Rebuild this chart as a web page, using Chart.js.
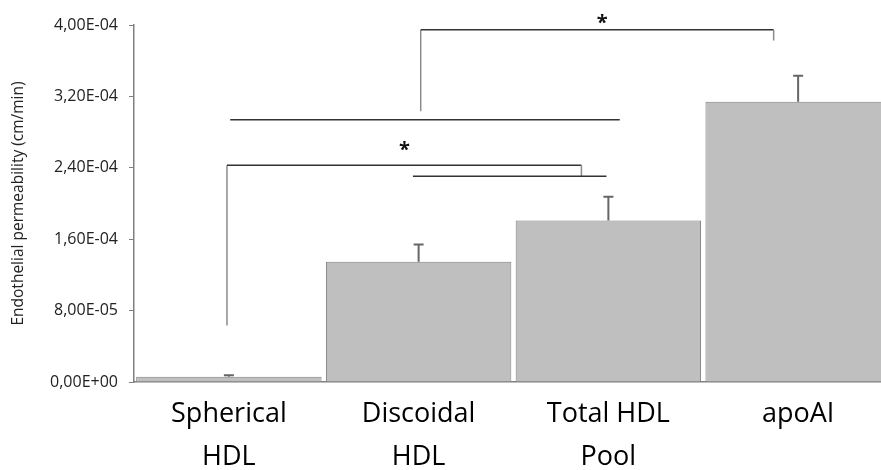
<!DOCTYPE html>
<html>
<head>
<meta charset="utf-8">
<script src="https://cdn.jsdelivr.net/npm/chart.js@4/dist/chart.umd.min.js"></script>
<style>
  html, body { margin: 0; padding: 0; background: #fff; overflow: hidden; }
  #wrap { width: 893px; height: 470px; position: relative; }
</style>
</head>
<body>
<div id="wrap"><canvas id="myChart"></canvas></div>
<script>
// data
var categories = [['Spherical', 'HDL'], ['Discoidal', 'HDL'], ['Total HDL', 'Pool'], 'apoAI'];
var permeability = [5.8e-6, 1.347e-4, 1.81e-4, 3.14e-4];
var errors = [1.8e-6, 1.94e-5, 2.65e-5, 2.9e-5];
var yTicks = [0, 8e-5, 1.6e-4, 2.4e-4, 3.2e-4, 4e-4];

// significance lines: x in category index, y in data units
var sigLines = [
    { x: [1.011, 1.011, 2.871, 2.871], y: [3.034e-4, 3.946e-4, 3.946e-4, 3.826e-4] },
    { x: [0.007, 2.06], y: [2.938e-4, 2.938e-4] },
    { x: [-0.01, -0.01, 1.858, 1.858], y: [6.33e-5, 2.429e-4, 2.429e-4, 2.306e-4] },
    { x: [0.97, 1.99], y: [2.306e-4, 2.306e-4] },
];
var stars = [
    { x: 1.967, y: 4.054e-4 },
    { x: 0.925, y: 2.635e-4 },
];

var fmt = function (v) {
    if (v === 0) return '0,00E+00';
    return v.toExponential(2).replace('.', ',').replace(/e([+-])(\d)$/, 'E$10$2').replace(/e([+-])(\d\d)$/, 'E$1$2');
};

var extras = {
    id: 'extras',
    afterDatasetsDraw: function (chart) {
        var c = chart.ctx, xs = chart.scales.x, ys = chart.scales.y;
        c.save();
        // error bars
        c.strokeStyle = '#666666';
        c.lineWidth = 2;
        permeability.forEach(function (v, i) {
            var px = xs.getPixelForValue(i);
            var top = ys.getPixelForValue(v + errors[i]);
            c.beginPath();
            c.moveTo(px, ys.getPixelForValue(v));
            c.lineTo(px, top);
            c.moveTo(px - 5, top);
            c.lineTo(px + 5, top);
            c.stroke();
        });
        // significance brackets
        c.lineWidth = 1.5;
        sigLines.forEach(function (l) {
            for (var k = 0; k < l.x.length - 1; k++) {
                var vertical = l.x[k] === l.x[k + 1];
                c.strokeStyle = vertical ? '#8c8c8c' : '#333333';
                c.beginPath();
                c.moveTo(xs.getPixelForValue(l.x[k]), ys.getPixelForValue(l.y[k]));
                c.lineTo(xs.getPixelForValue(l.x[k + 1]), ys.getPixelForValue(l.y[k + 1]));
                c.stroke();
            }
        });
        c.fillStyle = '#111';
        c.font = 'bold 20px "Open Sans"';
        c.textAlign = 'center';
        c.textBaseline = 'middle';
        stars.forEach(function (s) {
            c.fillText('*', xs.getPixelForValue(s.x), ys.getPixelForValue(s.y) + 3);
        });
        c.restore();
    }
};

var ctx = document.getElementById('myChart').getContext('2d');
var myChart = new Chart(ctx, {
    type: 'bar',
    data: {
        labels: categories,
        datasets: [
            {
                data: permeability,
                backgroundColor: '#bfbfbf',
                borderColor: '#7f7f7f',
                borderWidth: 1,
                categoryPercentage: 1,
                barPercentage: 0.977,
            },
        ],
    },
    options: {
        responsive: true,
        maintainAspectRatio: false,
        animation: false,
        layout: { padding: { top: 25, right: 0, left: 0, bottom: 0 } },
        plugins: {
            legend: { display: false },
            tooltip: { enabled: false },
        },
        scales: {
            x: {
                grid: { display: false, drawTicks: false },
                border: { display: true, color: '#808080', width: 1.5 },
                ticks: {
                    color: '#000',
                    padding: 11,
                    maxRotation: 0,
                    font: { family: '"Open Sans"', size: 27, lineHeight: 1.58 },
                },
                afterFit: function (s) { s.height = 88; },
            },
            y: {
                min: 0,
                max: 4e-4,
                afterBuildTicks: function (s) {
                    s.ticks = yTicks.map(function (v) { return { value: v }; });
                },
                grid: { drawOnChartArea: false, tickLength: 5, tickColor: '#808080' },
                border: { display: true, color: '#808080', width: 1.5 },
                ticks: {
                    color: '#222',
                    padding: 11,
                    font: { family: '"Open Sans"', size: 16 },
                    callback: function (v) { return fmt(v); },
                },
                title: {
                    display: true,
                    text: 'Endothelial permeability (cm/min)',
                    color: '#222',
                    padding: { top: 9, bottom: 0 },
                    font: { family: '"Open Sans"', size: 15.5 },
                },
                afterFit: function (s) { s.width = 134; },
            },
        },
    },
    plugins: [extras],
});
</script>
</body>
</html>
